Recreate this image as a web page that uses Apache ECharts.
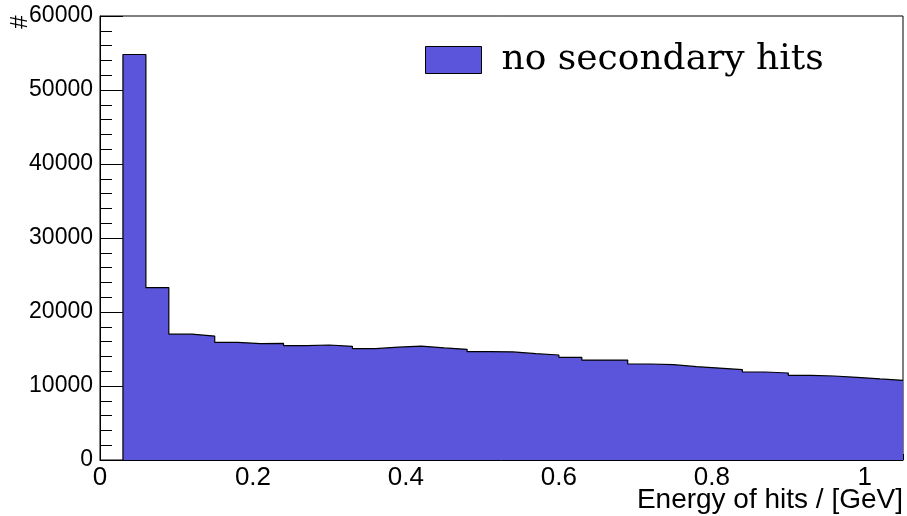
<!DOCTYPE html>
<html>
<head>
<meta charset="utf-8">
<script src="https://cdn.jsdelivr.net/npm/echarts@6/dist/echarts.min.js"></script>
<style>
html,body{margin:0;padding:0;background:#fff;}
#chart{width:907px;height:516px;}
</style>
</head>
<body>
<div id="chart"></div>
<script>
// Histogram: 34 bins of width 0.03 GeV, starting at 0.03 GeV
var binStart = 0.03;
var binWidth = 0.03;
var counts = [
  54800, 23300, 17000, 16750, 15900, 15720, 15760, 15450, 15540, 15360,
  15050, 15250, 15400, 15140, 14950, 14640, 14600, 14370, 14190, 13870,
  13510, 13510, 12970, 12880, 12610, 12420, 12210, 11890, 11760, 11440,
  11350, 11170, 10950, 10770
];
var xTickLabels = ['0', '0.2', '0.4', '0.6', '0.8', '1'];
var seriesName = 'no secondary hits';
var xTitle = 'Energy of hits / [GeV]';
var yTitle = '#';

var fillColor = '#5a55da';

// step outline points at bin edges
var pts = [[binStart, 0]];
for (var i = 0; i < counts.length; i++) {
  pts.push([+(binStart + i * binWidth).toFixed(4), counts[i]]);
}
pts.push([+(binStart + counts.length * binWidth).toFixed(4), counts[counts.length - 1]]);

var chart = echarts.init(document.getElementById('chart'), null, {renderer: 'canvas'});
var font = 'Liberation Sans, Arial, sans-serif';
chart.setOption({
  animation: false,
  backgroundColor: '#fff',
  grid: {left: 100, right: 4, top: 16, bottom: 56, show: true, borderColor: '#000', borderWidth: 1, backgroundColor: 'transparent'},
  legend: {
    show: true,
    left: 425, top: 42,
    padding: 0,
    icon: 'rect',
    itemWidth: 56, itemHeight: 27,
    itemStyle: {color: fillColor, borderColor: '#000', borderWidth: 1},
    textStyle: {fontFamily: 'DejaVu Serif, serif', fontSize: 36, color: '#000', padding: [0, 0, 0, 15]},
    data: [seriesName],
    selectedMode: false
  },
  xAxis: [{
    type: 'value', min: 0, max: 1.05, interval: 0.2, position: 'bottom',
    axisLine: {show: true, onZero: false, lineStyle: {color: '#000', width: 1}},
    axisTick: {show: true, inside: true, length: 13, lineStyle: {color: '#000', width: 1}},
    axisLabel: {
      show: true, margin: 5, color: '#000', fontFamily: font, fontSize: 26,
      showMaxLabel: false,
      formatter: function (v) {
        var idx = Math.round(v / 0.2);
        if (Math.abs(v - idx * 0.2) > 1e-6) return '';
        return xTickLabels[idx] !== undefined ? xTickLabels[idx] : '';
      }
    },
    splitLine: {show: false}
  }, {
    type: 'value', min: 0, max: 1.05, interval: 0.05, position: 'bottom',
    axisLine: {show: false},
    axisTick: {show: true, inside: true, length: 6, lineStyle: {color: '#000', width: 1}},
    axisLabel: {show: false},
    splitLine: {show: false}
  }],
  yAxis: {
    type: 'value', min: 0, max: 60000, interval: 10000,
    axisLine: {show: true, lineStyle: {color: '#000', width: 1}},
    axisTick: {show: true, inside: true, length: 23, lineStyle: {color: '#000', width: 1}},
    minorTick: {show: true, splitNumber: 5, length: 12, lineStyle: {color: '#000', width: 1}},
    axisLabel: {margin: 7, color: '#000', fontFamily: font, fontSize: 23,
      formatter: function (v) { return String(v); }},
    splitLine: {show: false}
  },
  series: [{
    name: seriesName,
    type: 'line',
    xAxisIndex: 0,
    step: 'end',
    symbol: 'none',
    color: fillColor,
    lineStyle: {color: '#000', width: 1.2},
    areaStyle: {color: fillColor, opacity: 1},
    data: pts,
    z: 1
  }],
  graphic: [{
    type: 'text',
    right: 4, top: 486,
    style: {text: xTitle, fontFamily: font, fontSize: 28, fill: '#000'}
  }, {
    type: 'text',
    x: 20, y: 22, rotation: Math.PI / 2,
    style: {text: yTitle, fontFamily: font, fontSize: 24, fill: '#000', align: 'center', verticalAlign: 'middle'}
  }]
});
</script>
</body>
</html>
